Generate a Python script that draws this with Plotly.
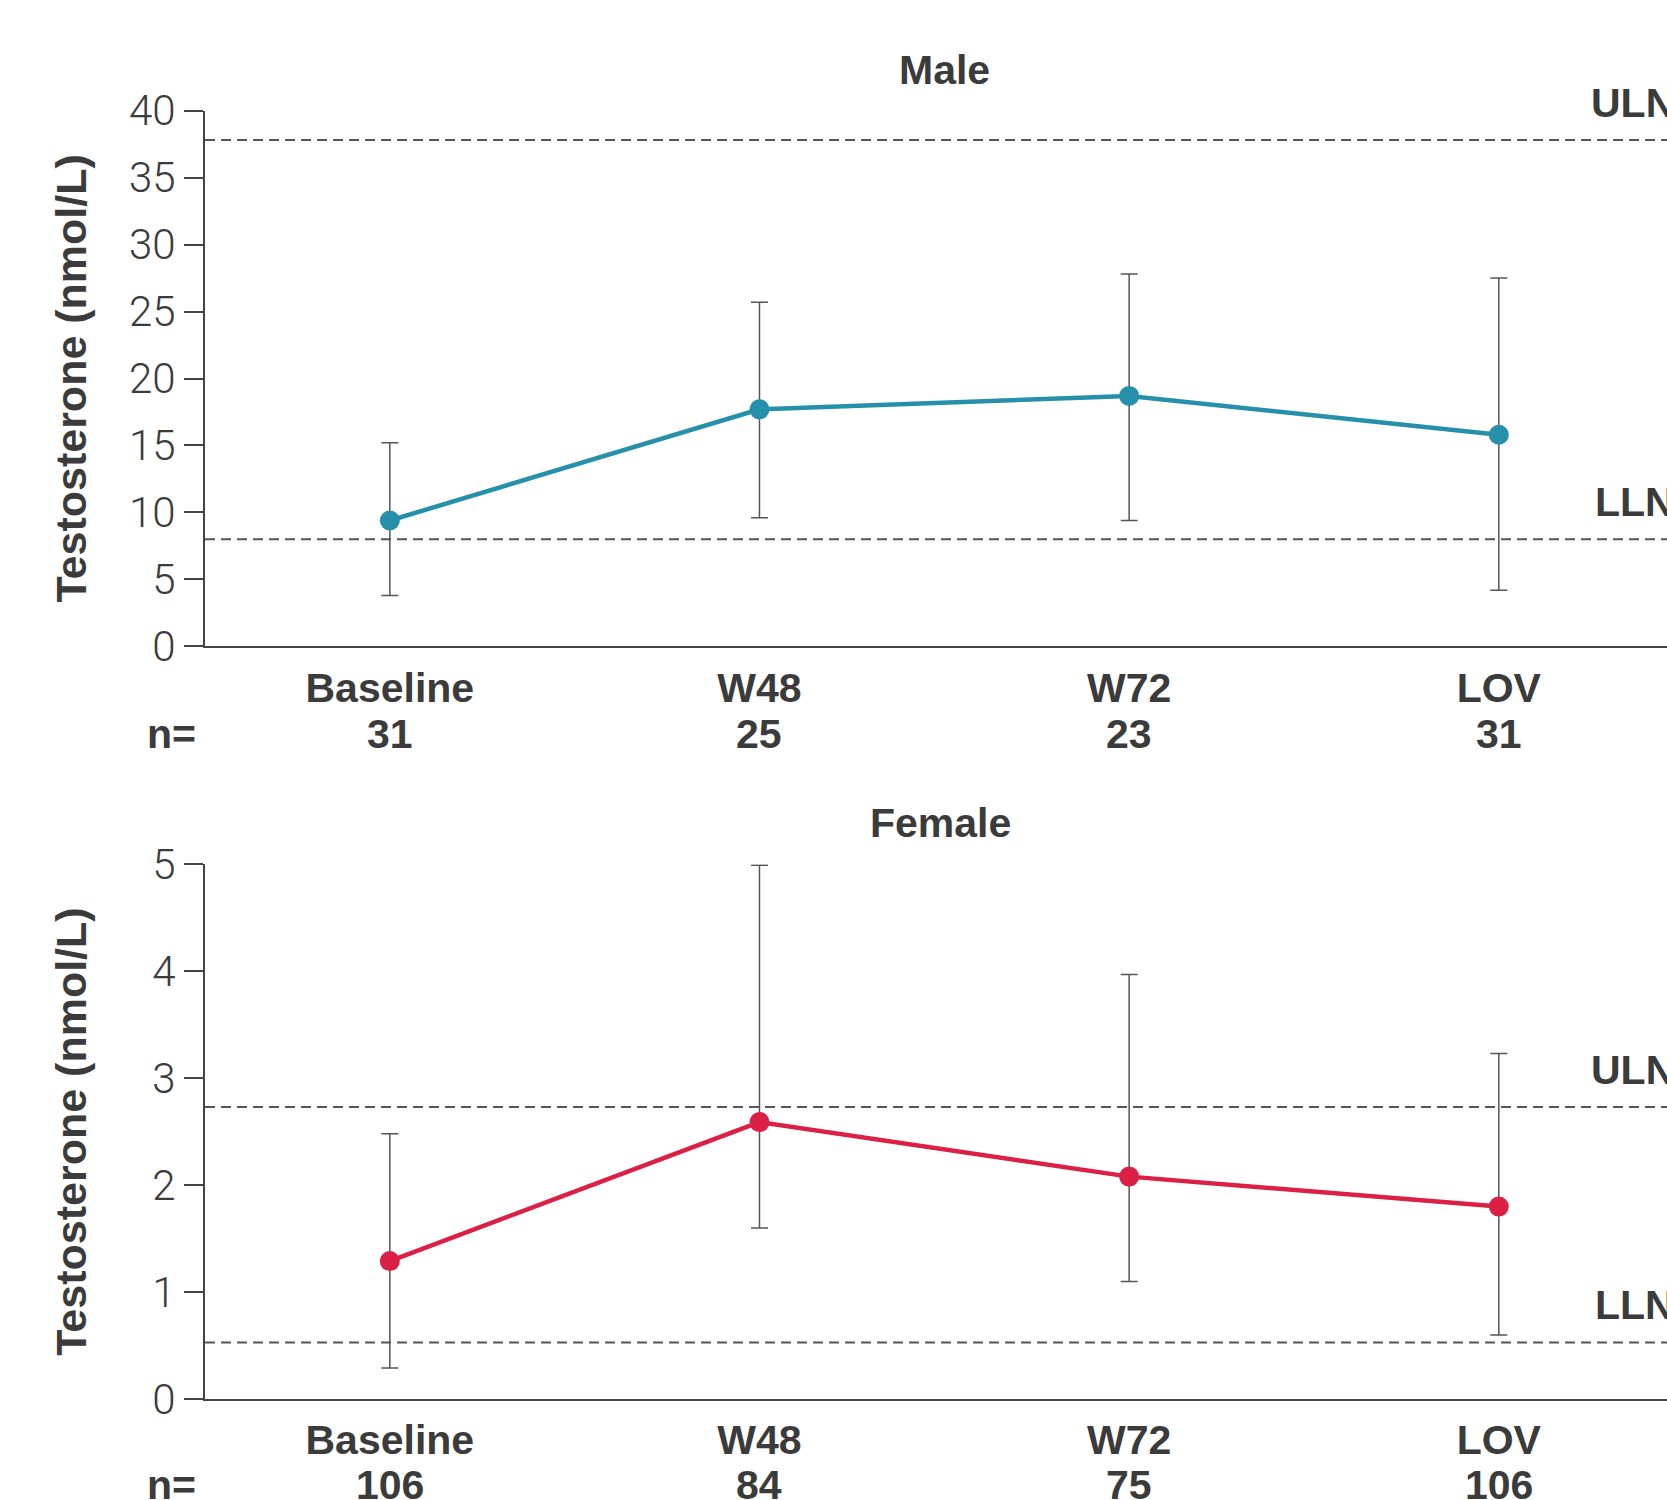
import plotly.graph_objects as go

# ---------------- data ----------------
categories = ["Baseline", "W48", "W72", "LOV"]

male_n = [31, 25, 23, 31]
male_mean = [9.4, 17.7, 18.7, 15.8]
male_upper = [15.2, 25.7, 27.8, 27.5]
male_lower = [3.8, 9.6, 9.4, 4.2]
male_uln = 37.8
male_lln = 8.0
male_yticks = [0, 5, 10, 15, 20, 25, 30, 35, 40]

female_n = [106, 84, 75, 106]
female_mean = [1.29, 2.59, 2.08, 1.80]
female_upper = [2.48, 4.99, 3.97, 3.23]
female_lower = [0.29, 1.60, 1.10, 0.60]
female_uln = 2.73
female_lln = 0.53
female_yticks = [0, 1, 2, 3, 4, 5]

# ---------------- style ----------------
W, H = 1667, 1500
TEXT = "#3b3b3b"
AX = "#444444"
FAM = "Liberation Sans, Arial, sans-serif"
BOLD = dict(family=FAM, size=41, color=TEXT, weight="bold")
YTITLE = dict(family=FAM, size=43, color=TEXT, weight="bold")
TICK = dict(family="Roboto, Liberation Sans, sans-serif", size=42, color=TEXT, weight=300)
TEAL = "#2690ab"
RED = "#dc1f45"

x0 = 205 / W
panels = [
    dict(name="Male", n=male_n, mean=male_mean, up=male_upper, lo=male_lower,
         uln=male_uln, lln=male_lln, ticks=male_yticks, rng=[0, 40], color=TEAL,
         top=110.6, bot=646.4, xa="x", ya="y", title_x=944, title_y=70, n_y=734),
    dict(name="Female", n=female_n, mean=female_mean, up=female_upper, lo=female_lower,
         uln=female_uln, lln=female_lln, ticks=female_yticks, rng=[0, 5], color=RED,
         top=864.3, bot=1399.1, xa="x2", ya="y2", title_x=940, title_y=823, n_y=1485),
]

fig = go.Figure()
annotations = []
shapes = []

for i, p in enumerate(panels):
    sfx = "" if i == 0 else "2"
    err_plus = [u - m for u, m in zip(p["up"], p["mean"])]
    err_minus = [m - l for m, l in zip(p["mean"], p["lo"])]
    fig.add_trace(go.Scatter(
        x=categories, y=p["mean"], xaxis=p["xa"], yaxis=p["ya"],
        mode="lines+markers",
        line=dict(color=p["color"], width=4.5),
        marker=dict(color=p["color"], size=20),
        error_y=dict(type="data", array=err_plus, arrayminus=err_minus,
                     color="#555555", thickness=1.5, width=8.5),
        showlegend=False,
    ))
    dom = [1 - p["bot"] / H, 1 - p["top"] / H]
    fig.layout["xaxis" + sfx] = dict(
        domain=[x0, 1], anchor=p["ya"], type="category",
        range=[-0.5, 3.455], showgrid=False, zeroline=False,
        showline=True, linecolor=AX, linewidth=2, ticks="",
        tickvals=categories, ticktext=categories, tickfont=BOLD,
        ticklabelstandoff=4, automargin=False,
    )
    fig.layout["yaxis" + sfx] = dict(
        domain=dom, anchor=p["xa"], range=p["rng"], showgrid=False,
        zeroline=False, showline=True, linecolor=AX, linewidth=2,
        ticks="outside", ticklen=19, tickwidth=2, tickcolor=AX,
        tickvals=p["ticks"], tickfont=TICK, automargin=False,
    )
    # reference lines
    for val, lab in [(p["uln"], "ULN"), (p["lln"], "LLN")]:
        shapes.append(dict(type="line", xref=p["xa"] + " domain", yref=p["ya"],
                           x0=0, x1=1, y0=val, y1=val,
                           line=dict(color="#555555", width=2, dash="10px,6px")))
        annotations.append(dict(text="<b>%s</b>" % lab, xref="paper", yref=p["ya"],
                                x=1.006, y=val, xanchor="right", yanchor="middle",
                                yshift=37, showarrow=False, font=BOLD))
    # panel title
    annotations.append(dict(text="<b>%s</b>" % p["name"], xref="paper", yref="paper",
                            x=p["title_x"] / W, y=1 - p["title_y"] / H, xanchor="center",
                            yanchor="middle", showarrow=False, font=BOLD))
    # axis title
    annotations.append(dict(text="<b>Testosterone (nmol/L)</b>", xref="paper", yref="paper",
                            x=71 / W, y=1 - (p["top"] + p["bot"]) / 2 / H, textangle=-90,
                            xanchor="center", yanchor="middle", showarrow=False, font=YTITLE))
    # n counts
    annotations.append(dict(text="<b>n=</b>", xref="paper", yref="paper",
                            x=198 / W, y=1 - p["n_y"] / H, xanchor="right",
                            yanchor="middle", showarrow=False, font=BOLD))
    for c, n in zip(categories, p["n"]):
        annotations.append(dict(text="<b>%d</b>" % n, xref=p["xa"], yref="paper",
                                x=c, y=1 - p["n_y"] / H, xanchor="center",
                                yanchor="middle", showarrow=False, font=BOLD))

fig.update_layout(
    width=W, height=H, margin=dict(l=0, r=0, t=0, b=0),
    paper_bgcolor="white", plot_bgcolor="white",
    annotations=annotations, shapes=shapes,
)
fig.write_html("out.html")
